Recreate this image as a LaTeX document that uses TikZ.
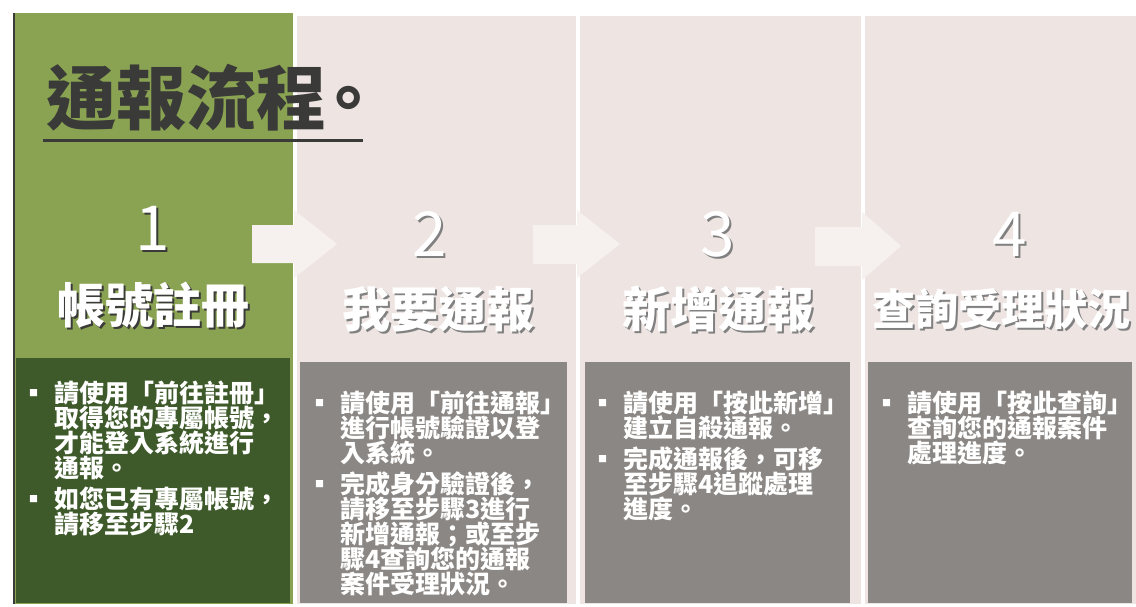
\documentclass[tikz,border=0pt]{standalone}
\usepackage{fontspec}
\newfontfamily\cjk{Noto Sans CJK TC}
\definecolor{stepgreen}{HTML}{8AA352}
\definecolor{deepgreen}{HTML}{3E5A2B}
\definecolor{palecol}{HTML}{EEE5E3}
\definecolor{boxgray}{HTML}{8B8784}
\definecolor{arrowfill}{HTML}{F6F1EF}
\definecolor{inkgray}{HTML}{3A3A38}
% white text with a small grey shadow
\newcommand\shtxt[2]{\rlap{\hspace{2pt}\raisebox{-2pt}{\color{#1}#2}}#2}
% bullet hanging left of the text, and the gap before the next bullet
\newcommand\bul{\noindent\llap{\makebox[25pt][l]{\fontsize{9}{9}\selectfont\raisebox{6pt}{■}}}}
\newcommand\nextbul{\par\vspace{6pt}\bul}
\newcommand\desctype{\cjk\bfseries\fontsize{25}{25}\selectfont\lineskiplimit=-20pt\relax}
\begin{document}
\begin{tikzpicture}[x=1pt,y=-1pt,
    col/.style={fill=#1,draw=none},
    num/.style={font=\cjk\fontsize{62}{62}\selectfont,text=white,inner sep=0pt},
    ttl/.style={font=\cjk\bfseries\fontsize{48}{48}\selectfont,text=white,inner sep=0pt},
    desc/.style={font=\desctype,text=white,anchor=north west,inner sep=0pt,
      text width=250pt,align=left}]
    \useasboundingbox[fill=white] (0,0) rectangle (1136,607);

    % columns
    \fill[col=stepgreen] (13,13) rectangle (293,604);
    \draw[inkgray,line width=1.5pt] (14,13) -- (14,604);
    \fill[col=palecol] (297,16) rectangle (576,604);
    \fill[col=palecol] (580,16) rectangle (861,604);
    \fill[col=palecol] (865,16) rectangle (1136,604);

    % text boxes
    \fill[col=deepgreen] (16,358) rectangle (290,603);
    \fill[col=boxgray] (300,362) rectangle (567,603);
    \fill[col=boxgray] (585,362) rectangle (850,603);
    \fill[col=boxgray] (868,362) rectangle (1132,603);

    % title
    \node[font=\cjk\bfseries\fontsize{70}{70}\selectfont,text=inkgray,anchor=west,inner sep=0pt] (title) at (46,98) {通報流程\hspace{-13pt}。};
    \draw[inkgray,line width=3pt] (43,141) -- (363,141);

    % arrows between the steps
    \fill[arrowfill] (252,225) -- (294,225) -- (294,210) -- (337,244) -- (294,278) -- (294,263) -- (252,263) -- cycle;
    \fill[arrowfill] (533,225) -- (577,225) -- (577,210) -- (620,244) -- (577,278) -- (577,264) -- (533,264) -- cycle;
    \fill[arrowfill] (815,227) -- (862,227) -- (862,212) -- (901,246) -- (862,280) -- (862,266) -- (815,266) -- cycle;

    % numbers
    \node[num] (n1) at (153,229) {\shtxt{inkgray}{1}};
    \node[num] (n2) at (430,235) {\shtxt{gray}{2}};
    \node[num] (n3) at (718,235) {\shtxt{gray}{3}};
    \node[num] (n4) at (1010,235) {\shtxt{gray}{4}};

    % step names
    \node[ttl] (t1) at (153,306) {\shtxt{inkgray}{帳號註冊}};
    \node[ttl] (t2) at (438,310) {\shtxt{gray}{我要通報}};
    \node[ttl] (t3) at (718,310) {\shtxt{gray}{新增通報}};
    \node[ttl,font=\cjk\bfseries\fontsize{43}{43}\selectfont,anchor=west] (t4) at (872,310) {\shtxt{gray}{查詢受理狀況}};

    % descriptions
    \node[desc] (d1) at (54,381) {\bul 請使用「前往註冊」\\
      取得您的專屬帳號，\\
      才能登入系統進行\\
      通報。
      \nextbul 如您已有專屬帳號，\\
      請移至步驟2};
    \node[desc] (d2) at (340,391) {\bul 請使用「前往通報」\\
      進行帳號驗證以登\\
      入系統。
      \nextbul 完成身分驗證後，\\
      請移至步驟3進行\\
      新增通報；或至步\\
      驟4查詢您的通報\\
      案件受理狀況。};
    \node[desc] (d3) at (623,391) {\bul 請使用「按此新增」\\
      建立自殺通報。
      \nextbul 完成通報後，可移\\
      至步驟4追蹤處理\\
      進度。};
    \node[desc] (d4) at (907,391) {\bul 請使用「按此查詢」\\
      查詢您的通報案件\\
      處理進度。};

  \end{tikzpicture}
\end{document}
